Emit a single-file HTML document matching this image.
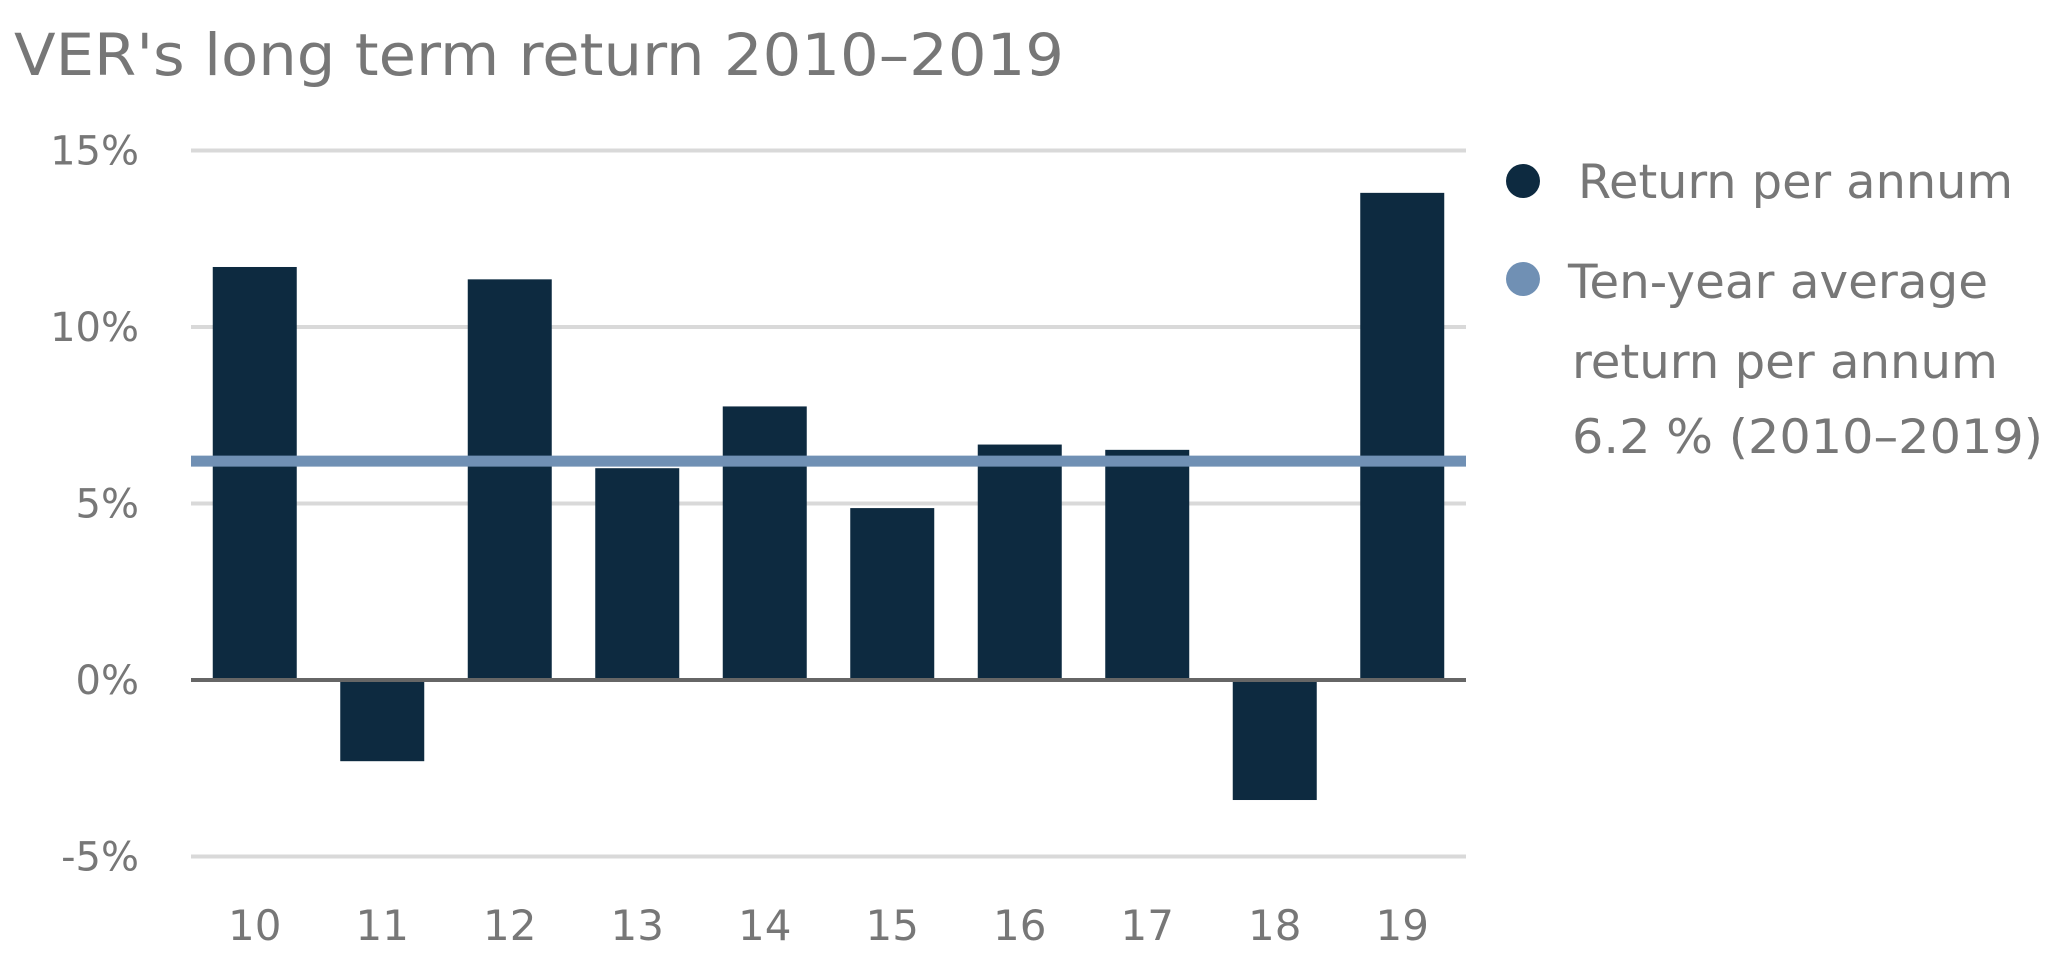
<!DOCTYPE html>
<html><head><meta charset="utf-8"><style>
body{margin:0;background:#fff;width:2061px;height:974px;overflow:hidden;font-family:"DejaVu Sans Condensed","Liberation Sans Narrow","Liberation Sans",sans-serif;}
svg text{font-family:"DejaVu Sans","Liberation Sans",sans-serif;fill:#777;}
</style></head><body>
<svg width="2061" height="974">
<text x="14" y="75" font-size="58" textLength="1050" lengthAdjust="spacingAndGlyphs">VER's long term return 2010–2019</text>
<g id="grid"></g><g id="bars"></g><g id="axis"></g>
<g>
<circle cx="1523" cy="181" r="17" fill="#0d2a40"/>
<text x="1578" y="198" font-size="47" textLength="435" lengthAdjust="spacingAndGlyphs">Return per annum</text>
<circle cx="1523" cy="279" r="17" fill="#7090b4"/>
<text x="1568" y="298" font-size="47" textLength="420" lengthAdjust="spacingAndGlyphs">Ten-year average</text>
<text x="1572" y="378" font-size="47" textLength="426" lengthAdjust="spacingAndGlyphs">return per annum</text>
<text x="1572" y="453" font-size="47" textLength="471" lengthAdjust="spacingAndGlyphs">6.2 % (2010–2019)</text>
</g>
</svg>
<script>
const categories=["10","11","12","13","14","15","16","17","18","19"];
const values=[11.7,-2.3,11.35,6.0,7.75,4.87,6.67,6.52,-3.4,13.8];
const average=[6.2];
const yTicks=[15,10,5,0,-5];
const yTickLabels=["15%","10%","5%","0%","-5%"];
const NS="http://www.w3.org/2000/svg";
const x0=191,x1=1466,step=(x1-x0)/categories.length,bw=84;
function y(v){return 680-v*35.3;}
function xc(i){return x0+step*(i+0.5);}
function mk(t,a,p){const e=document.createElementNS(NS,t);for(const k in a)e.setAttribute(k,a[k]);p.appendChild(e);return e;}
const grid=document.getElementById('grid'),bars=document.getElementById('bars'),axis=document.getElementById('axis');
yTicks.forEach((t,i)=>{
 if(t!==0){const l=mk('line',{x1:x0,x2:x1,y1:y(t),y2:y(t),stroke:'#d9d9d9','stroke-width':4},grid);
 
 }
 const tx=mk('text',{x:139,y:y(t)+14,'font-size':40,'text-anchor':'end'},axis);
 tx.textContent=yTickLabels[i];
 
 
});
values.forEach((v,i)=>{
 const r=mk('rect',{x:xc(i)-bw/2,y:Math.min(y(v),y(0)),width:bw,height:Math.abs(y(v)-y(0)),fill:'#0d2a40'},bars);
 
 
 const tx=mk('text',{x:xc(i),y:940,'font-size':42,'text-anchor':'middle'},axis);
 tx.textContent=categories[i];
 
 
});
const z=mk('line',{x1:x0,x2:x1,y1:y(0),y2:y(0),stroke:'#666','stroke-width':4},axis);


const av=mk('line',{x1:x0,x2:x1,y1:y(average[0]),y2:y(average[0]),stroke:'#7090b4','stroke-width':11},axis);


</script>
</body></html>
